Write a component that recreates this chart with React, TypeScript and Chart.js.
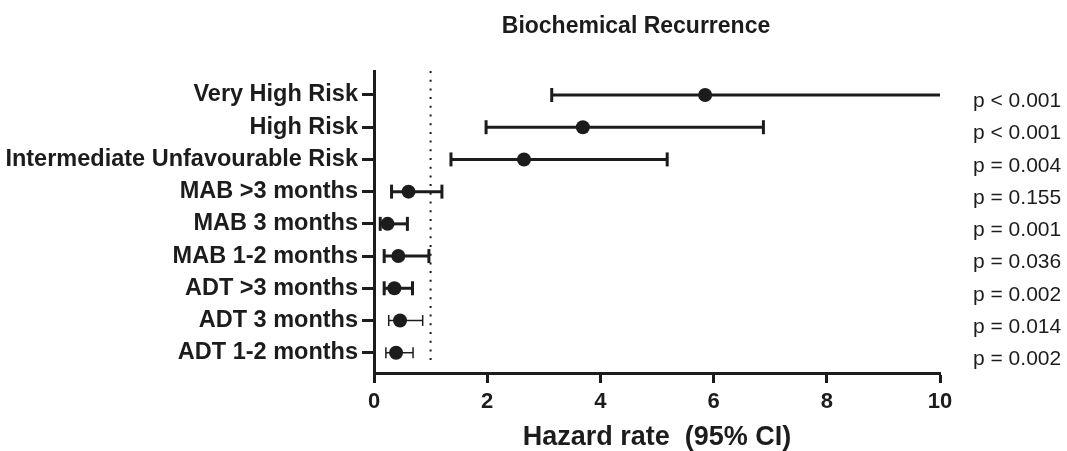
import React, { useEffect, useRef } from "react";
import { Chart, registerables } from "chart.js";

Chart.register(...registerables);

const categories = [
  "Very High Risk",
  "High Risk",
  "Intermediate Unfavourable Risk",
  "MAB >3 months",
  "MAB 3 months",
  "MAB 1-2 months",
  "ADT >3 months",
  "ADT 3 months",
  "ADT 1-2 months",
];
const hazard = [5.85, 3.69, 2.65, 0.61, 0.24, 0.43, 0.36, 0.46, 0.39];
const ciLow = [3.14, 1.98, 1.36, 0.31, 0.11, 0.18, 0.18, 0.26, 0.21];
const ciHigh = [10.9, 6.88, 5.18, 1.2, 0.59, 0.97, 0.68, 0.86, 0.69];
const pValues = [
  "p < 0.001",
  "p < 0.001",
  "p = 0.004",
  "p = 0.155",
  "p = 0.001",
  "p = 0.036",
  "p = 0.002",
  "p = 0.014",
  "p = 0.002",
];
const xTicks = [0, 2, 4, 6, 8, 10];
const referenceValue = 1;
const title = "Biochemical Recurrence";
const xTitle = "Hazard rate  (95% CI)";

const INK = "#1c1c1c";
const FONT = "'Liberation Sans', Arial, Helvetica, sans-serif";
const thinRows = new Set([7, 8]);

const titlePlugin = {
  id: "offsetTitle",
  afterDraw(chart: any) {
    const { ctx, chartArea } = chart;
    ctx.save();
    ctx.font = `bold 23px ${FONT}`;
    ctx.fillStyle = INK;
    ctx.textAlign = "center";
    ctx.textBaseline = "middle";
    const cx = (chartArea.left + chartArea.right) / 2 - 21;
    ctx.fillText(title, cx, chartArea.top - 44);
    ctx.restore();
  },
};

export default function App() {
  const ref = useRef<HTMLCanvasElement | null>(null);

  useEffect(() => {
    document.body.style.margin = "0";
    const canvas = ref.current;
    if (!canvas) return;

    const yMin = -0.745;
    const yMax = 8.63;
    const pShift = 0.2;

    const dots = {
      label: "HR",
      data: hazard.map((v, i) => ({ x: v, y: i })),
      pointRadius: 7,
      pointHoverRadius: 7,
      pointBackgroundColor: INK,
      pointBorderWidth: 0,
      showLine: false,
    };

    const ciSets = categories.map((_, i) => {
      const thin = thinRows.has(i);
      return {
        label: "CI " + i,
        data: [
          { x: ciLow[i], y: i },
          { x: ciHigh[i], y: i },
        ],
        showLine: true,
        borderColor: INK,
        borderWidth: thin ? 1.5 : 3,
        pointStyle: "line",
        rotation: 90,
        pointRadius: thin ? 5.5 : 7,
        pointHoverRadius: thin ? 5.5 : 7,
        pointBorderColor: INK,
        pointBorderWidth: thin ? 1.5 : 3,
        pointBackgroundColor: INK,
      };
    });

    const refLine = {
      label: "ref",
      data: [
        { x: referenceValue, y: yMin },
        { x: referenceValue, y: yMax - 0.25 },
      ],
      showLine: true,
      borderColor: INK,
      borderWidth: 2,
      borderDash: [2, 6.7],
      pointRadius: 0,
      pointHoverRadius: 0,
    };

    const chart = new Chart(canvas, {
      type: "scatter",
      data: { datasets: [dots, ...ciSets, refLine] as any },
      plugins: [titlePlugin],
      options: {
        animation: false,
        responsive: false,
        events: [],
        layout: { padding: { left: 0, right: 0, top: 71, bottom: 0 } },
        plugins: {
          legend: { display: false },
          tooltip: { enabled: false },
          title: { display: false },
        },
        scales: {
          x: {
            type: "linear",
            position: "bottom",
            min: 0,
            max: 10,
            afterBuildTicks: (axis: any) => {
              axis.ticks = xTicks.map((v) => ({ value: v }));
            },
            afterFit: (scale: any) => {
              scale.height = 78;
            },
            ticks: {
              color: INK,
              padding: 6,
              font: { family: FONT, size: 22, weight: "bold" },
            },
            grid: {
              drawOnChartArea: false,
              drawTicks: true,
              tickLength: 10,
              tickWidth: 3,
              tickColor: INK,
            },
            border: { display: true, width: 3, color: INK },
            title: {
              display: true,
              text: xTitle,
              color: INK,
              font: { family: FONT, size: 27, weight: "bold", lineHeight: 1 },
              padding: { top: 0, bottom: 0 },
            },
          },
          y: {
            type: "linear",
            position: "left",
            reverse: true,
            min: yMin,
            max: yMax,
            afterBuildTicks: (axis: any) => {
              axis.ticks = categories.map((_, i) => ({ value: i }));
            },
            afterFit: (scale: any) => {
              scale.width = 374;
            },
            ticks: {
              color: INK,
              padding: 4,
              autoSkip: false,
              font: { family: FONT, size: 23.5, weight: "bold" },
              callback: (v: any) => categories[Math.round(Number(v))] ?? "",
            },
            grid: {
              drawOnChartArea: false,
              drawTicks: true,
              tickLength: 12,
              tickWidth: 3,
              tickColor: INK,
            },
            border: { display: true, width: 3, color: INK },
          },
          p: {
            type: "linear",
            position: "right",
            reverse: true,
            min: yMin - pShift,
            max: yMax - pShift,
            afterBuildTicks: (axis: any) => {
              axis.ticks = pValues.map((_, i) => ({ value: i }));
            },
            afterFit: (scale: any) => {
              scale.width = 127;
            },
            ticks: {
              color: INK,
              padding: 25,
              autoSkip: false,
              font: { family: FONT, size: 21 },
              callback: (v: any) => pValues[Math.round(Number(v))] ?? "",
            },
            grid: { display: false },
            border: { display: false },
          },
        },
      } as any,
    });

    return () => chart.destroy();
  }, []);

  return (
    <div style={{ width: 1067, height: 451 }}>
      <canvas ref={ref} width={1067} height={451} />
    </div>
  );
}
